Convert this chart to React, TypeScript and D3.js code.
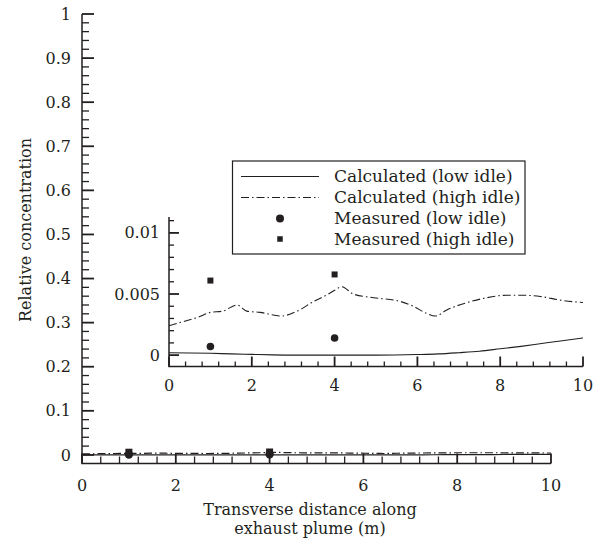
import React from "react";
import * as d3 from "d3";

// ---- data ----
const calcLowX = [0, 0.5, 1, 1.5, 2, 2.5, 3, 4, 5, 6, 6.5, 7, 7.5, 8, 8.5, 9, 9.5, 10];
const calcLowY = [0.0002, 0.00018, 0.00015, 0.0001, 0.00006, 0.00002, 0, 0, 0, 0.00005, 0.0001, 0.0002, 0.00032, 0.00052, 0.00072, 0.00095, 0.00118, 0.0014];

const calcHighX = [0, 0.4, 0.7, 1.0, 1.3, 1.64, 1.88, 2.2, 2.7, 3.1, 3.5, 3.8, 4.0, 4.17, 4.45, 4.94, 5.58, 5.9, 6.23, 6.43, 6.71, 7.2, 7.68, 8.16, 8.53, 8.97, 9.45, 10];
const calcHighY = [0.0024, 0.0028, 0.0031, 0.0035, 0.0036, 0.0041, 0.0036, 0.0035, 0.0032, 0.0036, 0.0044, 0.0049, 0.0053, 0.0056, 0.005, 0.0047, 0.0044, 0.004, 0.0034, 0.0032, 0.0037, 0.0043, 0.0047, 0.0049, 0.0049, 0.0048, 0.0045, 0.0043];

const measLowX = [1, 4];
const measLowY = [0.0007, 0.0014];
const measHighX = [1, 4];
const measHighY = [0.0061, 0.0066];

const mainYTicks = [0, 0.1, 0.2, 0.3, 0.4, 0.5, 0.6, 0.7, 0.8, 0.9, 1];
const mainYTickLabels = ["0", "0.1", "0.2", "0.3", "0.4", "0.5", "0.6", "0.7", "0.8", "0.9", "1"];
const xTicks = [0, 2, 4, 6, 8, 10];
const insetYTicks = [0, 0.005, 0.01];
const insetYTickLabels = ["0", "0.005", "0.01"];

const legendLabels = ["Calculated (low idle)", "Calculated (high idle)", "Measured (low idle)", "Measured (high idle)"];

const FONT = "DejaVu Serif";
const INK = "#231f20";

const mainMinorY = d3.range(0, 51).map(i => i * 0.02);
const minorX = d3.range(0, 26).map(i => i * 0.4);
const insetMinorY = d3.range(0, 12).map(i => i * 0.001);

export default function App() {
  const W = 610, H = 550;
  const mx = d3.scaleLinear().domain([0, 10]).range([82, 551]);
  const my = d3.scaleLinear().domain([-0.0195, 1]).range([463.5, 14]);
  const ix = d3.scaleLinear().domain([0, 10]).range([169, 583]);
  const iy = d3.scaleLinear().domain([-0.00093, 0.0113]).range([366.5, 217]);

  const low = calcLowX.map((x, i) => [x, calcLowY[i]] as [number, number]);
  const high = calcHighX.map((x, i) => [x, calcHighY[i]] as [number, number]);

  const mLine = d3.line<[number, number]>().x(d => mx(d[0])).y(d => my(d[1])).curve(d3.curveMonotoneX);
  const iLine = d3.line<[number, number]>().x(d => ix(d[0])).y(d => iy(d[1])).curve(d3.curveMonotoneX);

  const dash = "8,3,1.5,3";

  const square = (cx: number, cy: number, s: number, k: string) => (
    <rect key={k} x={cx - s / 2} y={cy - s / 2} width={s} height={s} fill={INK} />
  );

  const mBottom = my.range()[0];
  const iBottom = iy.range()[0];

  const isIn = (arr: number[], v: number, eps: number) => arr.some(t => Math.abs(t - v) < eps);

  const yTicksRects = (xs: any, ys: any, vals: number[], majors: number[], majLen: number, minLen: number, eps: number, pre: string) =>
    vals.map((v, i) => {
      const M = isIn(majors, v, eps);
      const t = M ? 1.8 : 1.3;
      return <rect key={pre + i} x={xs(0)} y={ys(v) - t / 2} width={M ? majLen : minLen} height={t} fill={INK} />;
    });
  const xTicksRects = (xs: any, bottom: number, vals: number[], majors: number[], majLen: number, minLen: number, pre: string) =>
    vals.map((v, i) => {
      const M = isIn(majors, v, 1e-6);
      const t = M ? 1.8 : 1.3;
      const len = M ? majLen : minLen;
      return <rect key={pre + i} x={xs(v) - t / 2} y={bottom - len} width={t} height={len} fill={INK} />;
    });

  return (
    <svg width={W} height={H} style={{ display: "block", position: "absolute", left: 0, top: 0 }} fontFamily={FONT}>
      <rect width={W} height={H} fill="#fff" />
      {/* ---- main axes ---- */}
      <g>{yTicksRects(mx, my, mainMinorY, mainYTicks, 12, 7, 1e-6, "mty")}</g>
      <g>{xTicksRects(mx, mBottom, minorX, xTicks, 10, 7, "mtx")}</g>
      <path d={`M${mx(0)},${my(1)}V${mBottom}H${mx(10)}`} fill="none" stroke={INK} strokeWidth={1.5} />
      <g fontSize={16} fill={INK}>
        {mainYTicks.map((t, i) => (
          <text key={"myl" + t} x={71} y={my(t)} dy="0.35em" textAnchor="end">{mainYTickLabels[i]}</text>
        ))}
        {xTicks.map(t => (
          <text key={"mxl" + t} x={mx(t)} y={491} textAnchor="middle">{t}</text>
        ))}
        <text x={310} y={515} textAnchor="middle">Transverse distance along</text>
        <text x={310} y={534} textAnchor="middle">exhaust plume (m)</text>
        <text transform={`translate(31,230) rotate(-90)`} textAnchor="middle">Relative concentration</text>
      </g>
      <path d={mLine(low) || ""} fill="none" stroke={INK} strokeWidth={1.2} />
      <path d={mLine(high) || ""} fill="none" stroke={INK} strokeWidth={1.2} strokeDasharray={dash} />
      {measHighX.map((x, i) => square(mx(x), my(measHighY[i]), 7, "mhs" + i))}
      {measLowX.map((x, i) => <circle key={"mlc" + i} cx={mx(x)} cy={my(measLowY[i])} r={4.2} fill={INK} />)}

      {/* ---- inset ---- */}
      <g>{yTicksRects(ix, iy, insetMinorY, insetYTicks, 10, 5, 1e-7, "ity")}</g>
      <g>{xTicksRects(ix, iBottom, minorX, xTicks, 10, 5, "itx")}</g>
      <path d={`M${ix(0)},${iy(iy.domain()[1])}V${iBottom}H${ix(10)}`} fill="none" stroke={INK} strokeWidth={1.5} />
      <g fontSize={16} fill={INK}>
        {insetYTicks.map((t, i) => (
          <text key={"iyl" + t} x={160} y={iy(t)} dy="0.35em" textAnchor="end">{insetYTickLabels[i]}</text>
        ))}
        {xTicks.map(t => (
          <text key={"ixl" + t} x={ix(t)} y={391} textAnchor="middle">{t}</text>
        ))}
      </g>
      <path d={iLine(low) || ""} fill="none" stroke={INK} strokeWidth={1.1} />
      <path d={iLine(high) || ""} fill="none" stroke={INK} strokeWidth={1.1} strokeDasharray={dash} />
      {measHighX.map((x, i) => square(ix(x), iy(measHighY[i]), 6, "ihs" + i))}
      {measLowX.map((x, i) => <circle key={"ilc" + i} cx={ix(x)} cy={iy(measLowY[i])} r={3.8} fill={INK} />)}

      {/* ---- legend ---- */}
      <rect x={232.5} y={161} width={292.5} height={93} fill="#fff" stroke={INK} strokeWidth={1.2} />
      <line x1={241} x2={319} y1={176.5} y2={176.5} stroke={INK} strokeWidth={1.1} />
      <line x1={241} x2={319} y1={197.5} y2={197.5} stroke={INK} strokeWidth={1.1} strokeDasharray={dash} />
      <circle cx={280} cy={218.5} r={4} fill={INK} />
      {square(280, 239, 5.5, "lsq")}
      <g fontSize={17} fill={INK}>
        {legendLabels.map((l, i) => (
          <text key={l} x={334} y={176.5 + i * 20.8} dy="0.35em">{l}</text>
        ))}
      </g>
    </svg>
  );
}
